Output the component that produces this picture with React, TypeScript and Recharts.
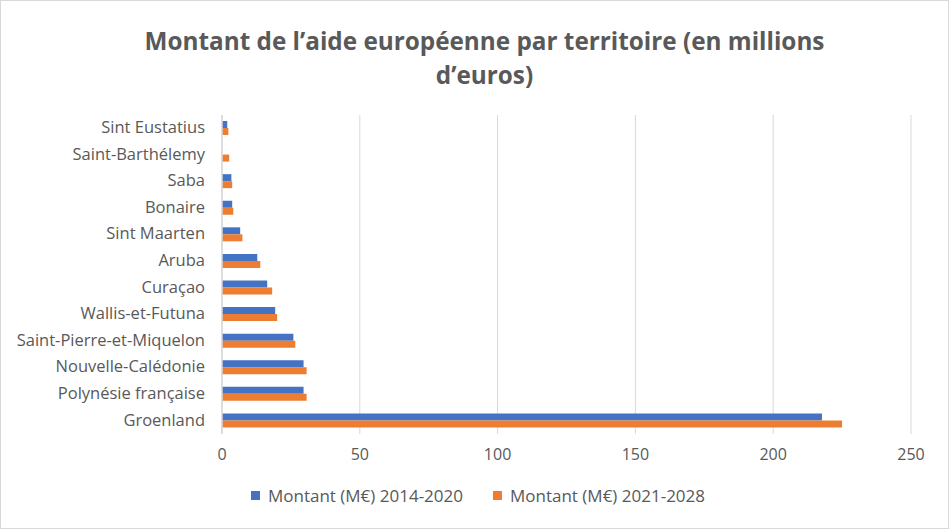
import { BarChart, Bar, XAxis, YAxis, CartesianGrid, Legend } from 'recharts'

const territories = [
  'Sint Eustatius',
  'Saint-Barthélemy',
  'Saba',
  'Bonaire',
  'Sint Maarten',
  'Aruba',
  'Curaçao',
  'Wallis-et-Futuna',
  'Saint-Pierre-et-Miquelon',
  'Nouvelle-Calédonie',
  'Polynésie française',
  'Groenland',
]
const amount2014 = [1.9, 0, 3.4, 3.7, 6.6, 12.8, 16.4, 19.3, 25.9, 29.6, 29.6, 217.7]
const amount2021 = [2.3, 2.6, 3.7, 4.1, 7.4, 13.9, 18.2, 20.0, 26.6, 30.7, 30.7, 225]
const xTicks = [0, 50, 100, 150, 200, 250]

const data = territories.map((name, i) => ({
  name,
  a: amount2014[i],
  b: amount2021[i],
}))

const FONT = '"Open Sans", sans-serif'
const GREY = '#595959'

function LegendRow({ payload }: any) {
  return (
    <div
      style={{
        display: 'flex',
        justifyContent: 'center',
        gap: 30,
        color: GREY,
        fontSize: 17,
        fontFamily: FONT,
        marginLeft: 44,
        paddingTop: 2,
      }}
    >
      {(payload || []).map((p: any) => (
        <div key={p.value} style={{ display: 'flex', alignItems: 'center' }}>
          <span style={{ width: 9, height: 9, background: p.color, marginRight: 8, display: 'inline-block' }} />
          <span>{p.value}</span>
        </div>
      ))}
    </div>
  )
}

export default function App() {
  return (
    <div
      style={{
        position: 'absolute',
        left: 0,
        top: 0,
        width: 949,
        height: 529,
        boxSizing: 'border-box',
        border: '1px solid #d9d9d9',
        background: '#fff',
        fontFamily: FONT,
      }}
    >
      <div
        style={{
          position: 'absolute',
          top: 23,
          left: 20,
          width: 927,
          textAlign: 'center',
          color: GREY,
          fontSize: 24.3,
          fontWeight: 700,
          lineHeight: '34px',
        }}
      >
        Montant de l’aide européenne par territoire (en millions
        <br />
        d’euros)
      </div>
      <BarChart
        width={947}
        height={527}
        data={data}
        layout="vertical"
        barGap={0}
        barSize={7}
        margin={{ top: 114, right: 37, bottom: 0, left: 0 }}
      >
        <CartesianGrid horizontal={false} stroke="#d9d9d9" />
        <XAxis
          type="number"
          domain={[0, 250]}
          ticks={xTicks}
          axisLine={false}
          tickLine={false}
          tickSize={0}
          tickMargin={15}
          height={48}
          tick={{ fill: GREY, fontSize: 16, fontFamily: FONT }}
        />
        <YAxis
          type="category"
          dataKey="name"
          width={221}
          axisLine={{ stroke: '#d9d9d9', strokeWidth: 1.5 }}
          tickLine={false}
          tickSize={10}
          tickMargin={7}
          tick={{ fill: GREY, fontSize: 16.5, fontFamily: FONT, dy: -1 }}
          interval={0}
        />
        <Legend verticalAlign="bottom" height={46} content={<LegendRow />} />
        <Bar dataKey="a" name="Montant (M€) 2014-2020" fill="#4472C4" isAnimationActive={false} />
        <Bar dataKey="b" name="Montant (M€) 2021-2028" fill="#ED7D31" isAnimationActive={false} />
      </BarChart>
    </div>
  )
}
